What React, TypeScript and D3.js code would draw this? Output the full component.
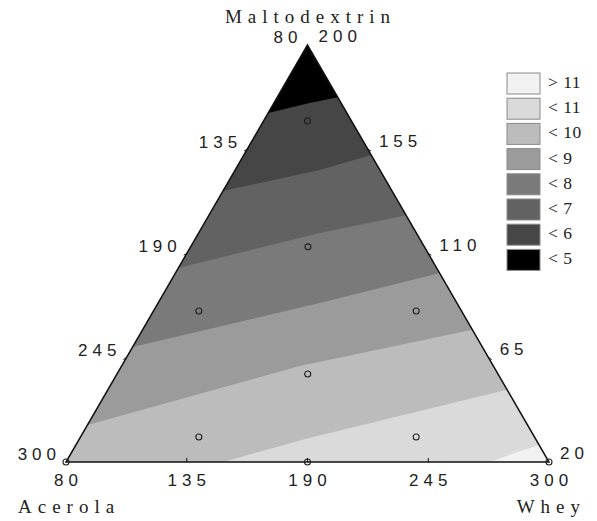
import React from 'react';
import * as d3 from 'd3';

const W = 597, H = 521;

// legend entries and band fills, lightest band first
const legendLabels = ['> 11', '< 11', '< 10', '< 9', '< 8', '< 7', '< 6', '< 5'];
const bandColors = ['#f2f2f2', '#dadada', '#bcbcbc', '#9b9b9b', '#7a7a7a', '#626262', '#464646', '#000000'];

// contour lines between neighbouring bands, as [acerola, whey, maltodextrin] shares
const boundary11 = [[0.122, 0.878, 0], [0.059, 0.919, 0.022], [0, 0.959, 0.041]];
const boundary10 = [[0.675, 0.325, 0], [0.466, 0.476, 0.058], [0, 0.827, 0.173]];
const boundary9 = [[0.911, 0, 0.089], [0.401, 0.369, 0.230], [0, 0.683, 0.317]];
const boundary8 = [[0.724, 0, 0.276], [0.284, 0.335, 0.381], [0, 0.547, 0.453]];
const boundary7 = [[0.535, 0, 0.465], [0.200, 0.251, 0.549], [0, 0.408, 0.592]];
const boundary6 = [[0.350, 0, 0.650], [0.125, 0.175, 0.700], [0, 0.264, 0.736]];
const boundary5 = [[0.163, 0, 0.837], [0.065, 0.074, 0.861], [0, 0.125, 0.875]];
const boundaries = [boundary11, boundary10, boundary9, boundary8, boundary7, boundary6, boundary5];

// experimental design points
const designPoints = [
  [1, 0, 0], [0, 1, 0], [0.5, 0.5, 0],
  [0.091, 0.091, 0.818], [0.243, 0.243, 0.516], [0.544, 0.094, 0.362],
  [0.094, 0.544, 0.362], [0.395, 0.395, 0.211], [0.695, 0.245, 0.06], [0.245, 0.695, 0.06],
];

// axis tick labels
const leftTicks = ['80', '135', '190', '245', '300'];    // apex -> bottom left
const rightTicks = ['200', '155', '110', '65', '20'];    // apex -> bottom right
const bottomTicks = ['80', '135', '190', '245', '300'];  // left -> right

const x = d3.scaleLinear().domain([0, 1]).range([66, 549]);
const y = d3.scaleLinear().domain([0, 1]).range([462, 45]);
const pos = (p: number[]): [number, number] => [x(p[1] + p[2] / 2), y(p[2])];

const apex = pos([0, 0, 1]);
const bl = pos([1, 0, 0]);
const br = pos([0, 1, 0]);

const numFont = { fontFamily: '"Liberation Sans", Arial, sans-serif', fontSize: 17, letterSpacing: 5 };
const titleFont = { fontFamily: '"Liberation Serif", "Times New Roman", serif', fontSize: 19, letterSpacing: 6 };

export default function App() {
  const line = d3.line().curve(d3.curveLinearClosed);

  const bandPaths = boundaries.map(b => {
    const pts = b.map(pos);
    pts.push(apex);
    if (b[0][2] === 0) pts.push(bl);
    return line(pts);
  });
  const tri = line([apex, bl, br]);
  const ts = leftTicks.map((_, i) => i / 4);

  return (
    <svg width={W} height={H} style={{ position: 'absolute', left: 0, top: 0, background: '#fff' }}>
      <defs>
        <clipPath id="tri"><path d={tri!} /></clipPath>
      </defs>
      <g clipPath="url(#tri)">
        <path d={tri!} fill={bandColors[0]} />
        {bandPaths.map((d, i) => (
          <path key={i} d={d!} fill={bandColors[i + 1]} />
        ))}
      </g>
      <path d={tri!} fill="none" stroke="#111" strokeWidth={1.5} />

      {/* edge ticks */}
      {ts.slice(1, 4).map((t, i) => {
        const [lx, ly] = pos([t, 0, 1 - t]);
        const [rx, ry] = pos([0, t, 1 - t]);
        const [bx, by] = pos([1 - t, t, 0]);
        return (
          <g key={i} stroke="#111" strokeWidth={1}>
            <line x1={lx} y1={ly} x2={lx - 3} y2={ly + 1.7} />
            <line x1={rx} y1={ry} x2={rx + 3} y2={ry + 1.7} />
            <line x1={bx} y1={by} x2={bx} y2={by - 4} />
          </g>
        );
      })}

      {designPoints.map((p, i) => {
        const [cx, cy] = pos(p);
        return <circle key={i} cx={cx} cy={cy} r={3} fill="none" stroke="#222" strokeWidth={1.1} />;
      })}

      {/* tick labels */}
      <g {...numFont} fill="#222" dominantBaseline="middle">
        {leftTicks.map((lab, i) => {
          const [px, py] = pos([ts[i], 0, 1 - ts[i]]);
          return <text key={'l' + i} x={px - 10 + 5} y={py - 6} textAnchor="end">{lab}</text>;
        })}
        {rightTicks.map((lab, i) => {
          const [px, py] = pos([0, ts[i], 1 - ts[i]]);
          return <text key={'r' + i} x={px + 11} y={py - 7} textAnchor="start">{lab}</text>;
        })}
        {bottomTicks.map((lab, i) => {
          const [px] = pos([1 - ts[i], ts[i], 0]);
          return <text key={'b' + i} x={px + 2.5} y={482} textAnchor="middle">{lab}</text>;
        })}
      </g>

      {/* axis titles */}
      <g {...titleFont} fill="#222">
        <text x={apex[0] + 3} y={23} textAnchor="middle">Maltodextrin</text>
        <text x={18} y={513} textAnchor="start">Acerola</text>
        <text x={586} y={513} textAnchor="end">Whey</text>
      </g>

      {/* legend */}
      <g>
        {legendLabels.map((lab, i) => (
          <g key={i} transform={`translate(507,${73 + i * 25.2})`}>
            <rect width={33} height={21} fill={bandColors[i]} stroke="#8a8a8a" strokeWidth={1} />
            <text x={41} y={11} dominantBaseline="middle" fontFamily='"Liberation Serif", "Times New Roman", serif'
              fontSize={17.5} letterSpacing={0.5} fill="#222">{lab}</text>
          </g>
        ))}
      </g>
    </svg>
  );
}
